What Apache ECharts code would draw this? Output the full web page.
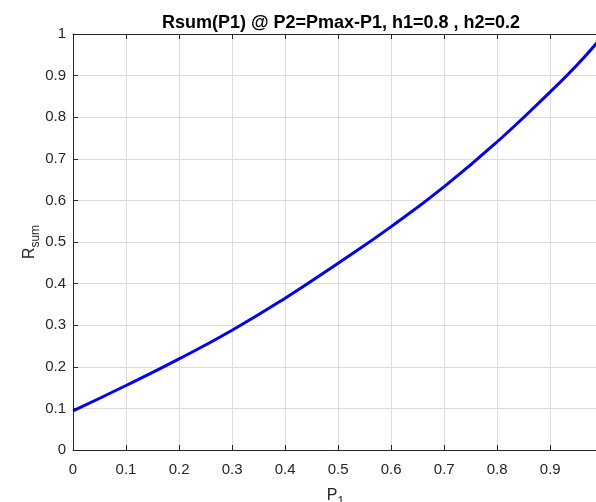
<!DOCTYPE html>
<html>
<head>
<meta charset="utf-8">
<script src="https://cdn.jsdelivr.net/npm/echarts@6/dist/echarts.min.js"></script>
<style>
  html, body { margin: 0; padding: 0; background: #fff; }
  #chart { width: 596px; height: 502px; }
</style>
</head>
<body>
<div id="chart"></div>
<script>
// Sum rate as a function of P1, with P2 = Pmax - P1
const p1Values = [0, 0.1, 0.2, 0.3, 0.4, 0.5, 0.6, 0.7, 0.8, 0.9, 0.95, 0.99];
const rsumValues = [0.094, 0.155, 0.219, 0.288, 0.365, 0.449, 0.537, 0.633, 0.741, 0.861, 0.925, 0.982];
const xTicks = [0, 0.1, 0.2, 0.3, 0.4, 0.5, 0.6, 0.7, 0.8, 0.9];
const yTicks = [0, 0.1, 0.2, 0.3, 0.4, 0.5, 0.6, 0.7, 0.8, 0.9, 1];
const titleText = 'Rsum(P1) @ P2=Pmax-P1, h1=0.8 , h2=0.2';

const FONT = '"Liberation Sans", Arial, Helvetica, sans-serif';
const AXIS_COLOR = '#262626';

const chart = echarts.init(document.getElementById('chart'), null, { renderer: 'canvas' });

const fmt = v => String(Math.round(v * 10) / 10);

const baseXAxis = {
  type: 'value',
  min: 0,
  max: 0.99,
  interval: 0.1,
  axisLine: { show: true, lineStyle: { color: AXIS_COLOR, width: 1 } },
  axisTick: { show: true, inside: true, length: 5, lineStyle: { color: AXIS_COLOR } },
  splitLine: { show: true, lineStyle: { color: '#dcdcdc', width: 1 } },
  axisLabel: { show: true, color: AXIS_COLOR, fontFamily: FONT, fontSize: 15, margin: 12, formatter: fmt,
               showMaxLabel: false }
};

const nameRich = {
  m: { fontFamily: FONT, fontSize: 16, color: AXIS_COLOR, lineHeight: 20 },
  s: { fontFamily: FONT, fontSize: 12, color: AXIS_COLOR, lineHeight: 20, padding: [11, 0, 0, 0] }
};

chart.setOption({
  backgroundColor: '#fff',
  animation: false,
  title: {
    text: titleText,
    left: 336,
    top: 9,
    textAlign: 'center',
    textStyle: { fontFamily: FONT, fontSize: 18, fontWeight: 'bold', color: '#000' }
  },
  grid: { left: 73, top: 34, width: 525, height: 416, containLabel: false, outerBoundsMode: 'none' },
  xAxis: [
    Object.assign({}, baseXAxis, {
      position: 'bottom',
      name: '{m|P}{s|1}',
      nameLocation: 'middle',
      nameGap: 36,
      nameMoveOverlap: false,
      nameTextStyle: { rich: nameRich }
    }),
    Object.assign({}, baseXAxis, {
      position: 'top',
      axisLabel: { show: false },
      splitLine: { show: false }
    })
  ],
  yAxis: {
    type: 'value',
    min: 0,
    max: 1,
    interval: 0.1,
    axisLine: { show: true, lineStyle: { color: AXIS_COLOR, width: 1 } },
    axisTick: { show: true, inside: true, length: 5, lineStyle: { color: AXIS_COLOR } },
    splitLine: { show: true, lineStyle: { color: '#dcdcdc', width: 1 } },
    axisLabel: { color: AXIS_COLOR, fontFamily: FONT, fontSize: 15, margin: 7, formatter: fmt },
    name: '{m|R}{s|sum}',
    nameLocation: 'middle',
    nameRotate: 90,
    nameGap: 33,
    nameMoveOverlap: false,
    nameTextStyle: { rich: nameRich }
  },
  series: [{
    type: 'line',
    data: p1Values.map((x, i) => [x, rsumValues[i]]),
    smooth: true,
    showSymbol: false,
    clip: true,
    lineStyle: { color: '#0000ff', width: 3 },
    itemStyle: { color: '#0000ff' }
  }]
});
</script>
</body>
</html>
